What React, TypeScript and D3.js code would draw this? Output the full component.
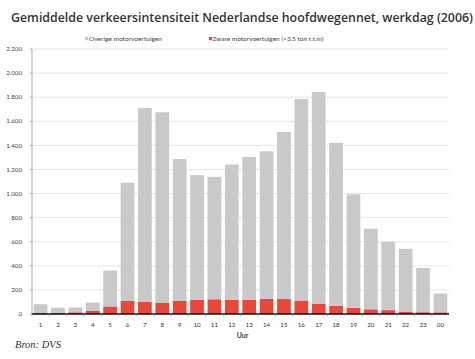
import * as d3 from "d3";

// uur van de dag
const hours = ["1", "2", "3", "4", "5", "6", "7", "8", "9", "10", "11", "12",
  "13", "14", "15", "16", "17", "18", "19", "20", "21", "22", "23", "00"];

// zware motorvoertuigen (>3,5 ton)
const zware = [8, 8, 14, 25, 63, 110, 103, 95, 110, 119, 122, 119,
  119, 125, 124, 112, 86, 67, 52, 39, 32, 20, 15, 14];

// overige motorvoertuigen (bovenop de zware)
const overige = [74, 44, 40, 70, 298, 980, 1607, 1580, 1176, 1034, 1017, 1122,
  1185, 1226, 1387, 1672, 1757, 1354, 941, 669, 566, 521, 367, 156];

const yTicks = [0, 200, 400, 600, 800, 1000, 1200, 1400, 1600, 1800, 2000, 2200];

const width = 475;
const height = 359;
const marginLeft = 32;
const marginRight = 26;
const marginTop = 49;
const marginBottom = 45;

const fmt = (v: number) => (v >= 1000 ? `${Math.floor(v / 1000)}.${String(v % 1000).padStart(3, "0")}` : `${v}`);

export default function App() {
  const x = d3.scaleBand(hours, [marginLeft, width - marginRight]).paddingInner(0.21).paddingOuter(0.1);
  const y = d3.scaleLinear([0, 2200], [height - marginBottom, marginTop]);

  const rows = hours.map((h, i) => ({ h, zware: zware[i], overige: overige[i] }));
  const series = d3.stack<any>().keys(["zware", "overige"])(rows);
  const colors: Record<string, string> = { zware: "#e8473a", overige: "#c9c9c9" };

  const step = x.step();
  const font = "Lato, 'Open Sans', sans-serif";

  return (
    <svg width={width} height={height} style={{ position: "absolute", left: 0, top: 0, background: "#fff" }}>
      <text x={11} y={22} fontFamily="'Open Sans', sans-serif" fontWeight={600} fontSize={12}
        fill="#333" textLength={462} lengthAdjust="spacingAndGlyphs">
        Gemiddelde verkeersintensiteit Nederlandse hoofdwegennet, werkdag (2006)
      </text>

      {/* legenda */}
      <rect x={85} y={37} width={3} height={3.2} fill={colors.overige} />
      <text x={89} y={40.5} fontFamily={font} fontSize={5.6} fill="#444" textLength={73} lengthAdjust="spacingAndGlyphs">
        Overige motorvoertuigen
      </text>
      <rect x={209} y={37} width={3} height={3.2} fill={colors.zware} />
      <text x={212.5} y={40.5} fontFamily={font} fontSize={5.6} fill="#444" textLength={111} lengthAdjust="spacingAndGlyphs">
        Zware motorvoertuigen (&gt;3,5 ton t.t.m)
      </text>

      {/* rasterlijnen */}
      <g>
        {yTicks.map((t) => (
          <g key={t}>
            {t > 0 && (
              <line x1={marginLeft} x2={width - marginRight} y1={y(t)} y2={y(t)} stroke="#e6e6e6" strokeWidth={1} />
            )}
            <line x1={marginLeft - 2} x2={marginLeft} y1={y(t)} y2={y(t)} stroke="#999" strokeWidth={0.8} />
            <text x={marginLeft - 10} y={y(t)} dy="0.35em" textAnchor="end" fontFamily={font}
              fontSize={6.2} fill="#444">{fmt(t)}</text>
          </g>
        ))}
      </g>
      <line x1={marginLeft} x2={marginLeft} y1={y(2200)} y2={y(0)} stroke="#999" strokeWidth={0.8} />

      {/* staven */}
      {series.map((s) => (
        <g key={s.key} fill={colors[s.key]}>
          {s.map((d: any) => (
            <rect key={d.data.h} x={x(d.data.h)} y={y(d[1])} width={x.bandwidth()} height={y(d[0]) - y(d[1])} />
          ))}
        </g>
      ))}

      {/* x-as */}
      <line x1={marginLeft} x2={width - marginRight} y1={y(0)} y2={y(0)} stroke="#111" strokeWidth={1.4} />
      {hours.map((h) => (
        <g key={h}>
          <line x1={(x(h) ?? 0) - (step - x.bandwidth()) / 2} x2={(x(h) ?? 0) - (step - x.bandwidth()) / 2}
            y1={y(0)} y2={y(0) + 2.5} stroke="#888" strokeWidth={0.6} />
          <text x={(x(h) ?? 0) + x.bandwidth() / 2} y={326.5} textAnchor="middle" fontFamily={font}
            fontSize={6.2} fill="#333">{h}</text>
        </g>
      ))}
      <text x={242.5} y={337.5} textAnchor="middle" fontFamily={font} fontWeight={700} fontSize={7} fill="#444">Uur</text>

      <text x={15} y={347.5} fontFamily="'Liberation Serif', serif" fontStyle="italic" fontSize={10.5} fill="#333">
        Bron: DVS
      </text>
    </svg>
  );
}
